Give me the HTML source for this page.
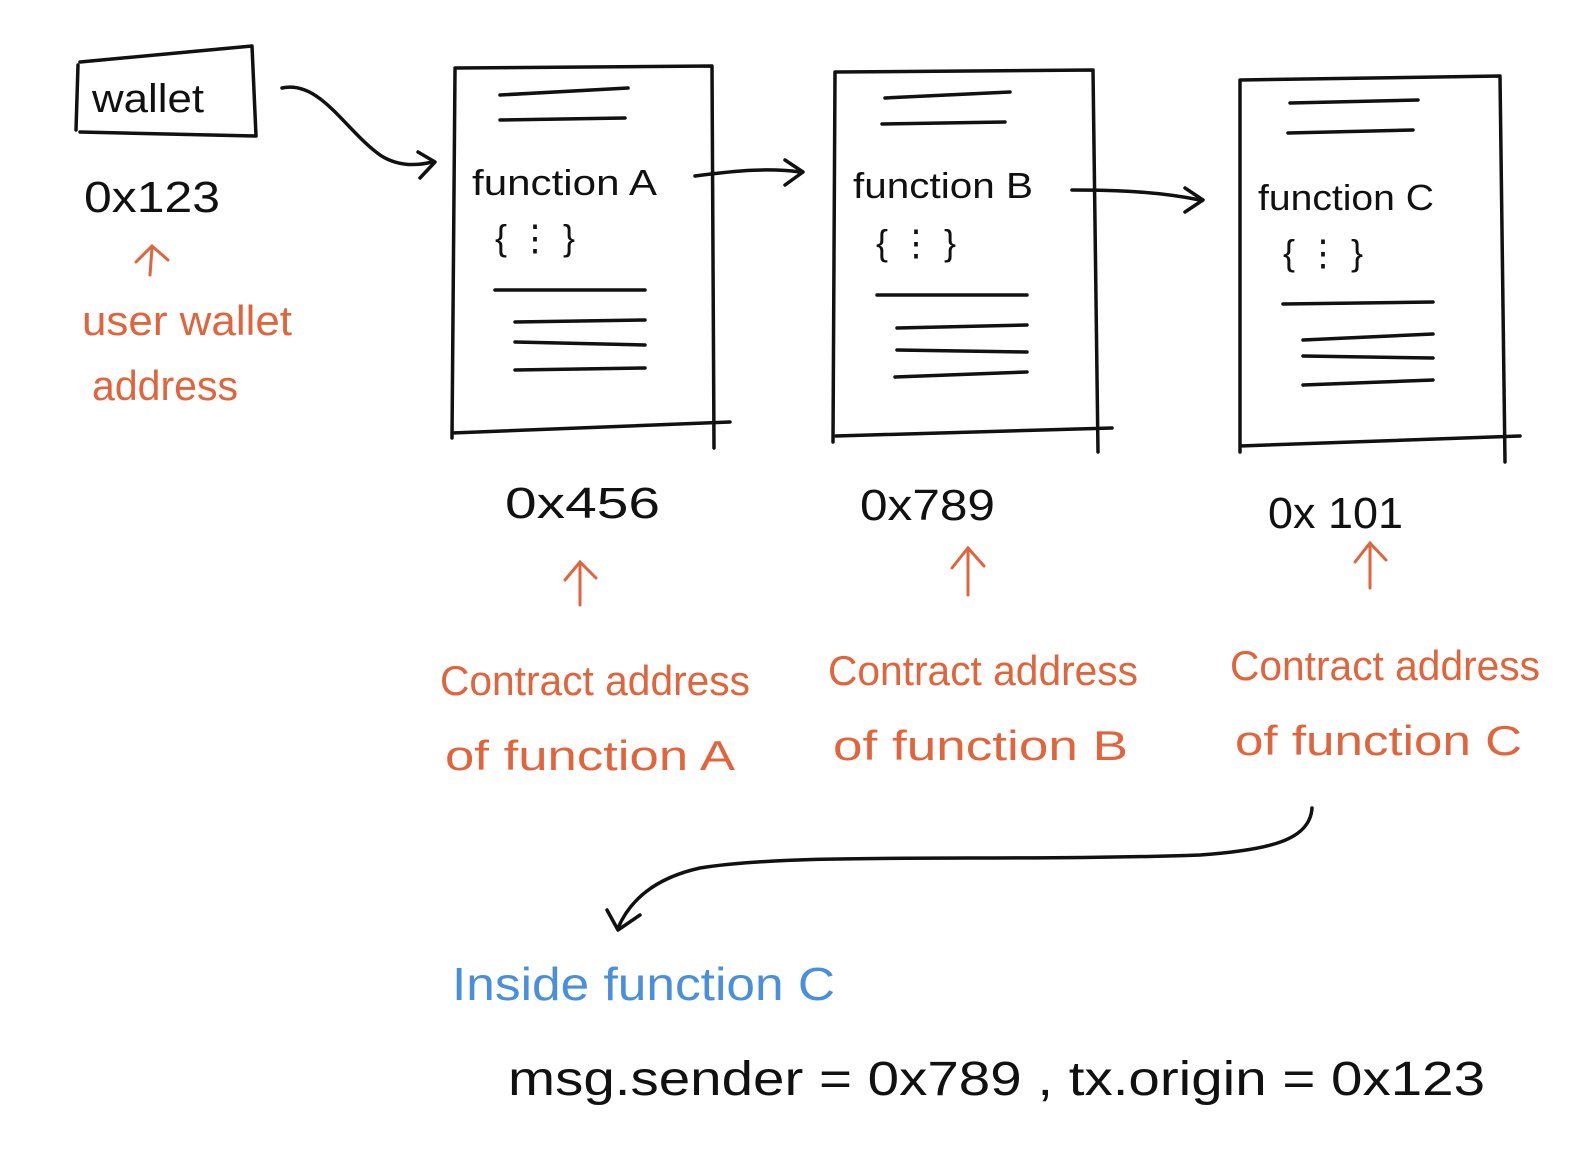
<!DOCTYPE html>
<html><head><meta charset="utf-8"><style>
html,body{margin:0;padding:0;background:#fff;}
svg{display:block;}
text{font-family:"Liberation Sans",sans-serif;}
</style></head><body>
<svg width="1589" height="1160" viewBox="0 0 1589 1160" xmlns="http://www.w3.org/2000/svg">
<rect width="1589" height="1160" fill="#fff"/>
<g fill="none" stroke="#111" stroke-width="3.5" stroke-linecap="round" stroke-linejoin="round">
<path d="M78 65 L76 130 M80 62 L252 46 L256 136 L80 132"/>
<path d="M455 70 L452 438 M455 68 L712 66 L714 448 M452 433 L730 422"/>
<path d="M500 95 L628 88 M500 120 L625 118 M495 290 L645 290 M515 322 L645 320 M515 342 L645 345 M515 370 L645 368"/>
<path d="M835 72 L833 442 M835 72 L1093 70 L1098 452 M836 436 L1112 428"/>
<path d="M885 98 L1010 92 M882 124 L1005 122 M877 295 L1027 295 M897 328 L1027 325 M897 350 L1027 352 M895 377 L1027 372"/>
<path d="M1240 80 L1240 452 M1240 80 L1500 76 L1505 462 M1240 446 L1520 436"/>
<path d="M1290 103 L1418 100 M1288 133 L1413 130 M1283 304 L1433 302 M1303 340 L1433 334 M1303 356 L1433 358 M1303 385 L1433 380"/>
<path d="M282 88 C320 80 345 130 380 155 C400 168 420 165 432 162"/>
<path d="M418 152 L435 162 L420 178"/>
<path d="M695 176 C740 170 770 168 800 172"/>
<path d="M785 160 L803 172 L785 185"/>
<path d="M1072 190 C1120 190 1160 192 1200 200"/>
<path d="M1185 188 L1203 200 L1185 212"/>
<path d="M1312 808 C1310 840 1270 850 1200 855 C1000 862 800 852 700 868 C655 878 630 900 618 928"/>
<path d="M607 910 L618 930 L640 915"/>
</g>
<g fill="none" stroke="#e0643c" stroke-width="3" stroke-linecap="round">
<path d="M152 248 L150 275 M136 262 L152 246 L168 260"/>
<path d="M580 565 L580 605 M565 580 L580 562 L596 578"/>
<path d="M968 550 L968 595 M952 568 L968 548 L984 566"/>
<path d="M1370 545 L1370 588 M1355 562 L1370 543 L1386 560"/>
</g>
<g fill="#111" font-size="44">
<text x="92" y="112" font-size="40" textLength="112" lengthAdjust="spacingAndGlyphs">wallet</text>
<text x="84" y="212" textLength="136" lengthAdjust="spacingAndGlyphs">0x123</text>
<text x="472" y="195" font-size="36" textLength="185" lengthAdjust="spacingAndGlyphs">function A</text>
<text x="495" y="250" font-size="36">{  ⋮        }</text>
<text x="853" y="198" font-size="36" textLength="180" lengthAdjust="spacingAndGlyphs">function B</text>
<text x="876" y="255" font-size="36">{  ⋮        }</text>
<text x="1258" y="210" font-size="36" textLength="176" lengthAdjust="spacingAndGlyphs">function C</text>
<text x="1283" y="265" font-size="36">{  ⋮        }</text>
<text x="505" y="518" textLength="155" lengthAdjust="spacingAndGlyphs">0x456</text>
<text x="860" y="520" textLength="135" lengthAdjust="spacingAndGlyphs">0x789</text>
<text x="1268" y="528" textLength="135" lengthAdjust="spacingAndGlyphs">0x 101</text>
<text x="508" y="1095" font-size="48" textLength="977" lengthAdjust="spacingAndGlyphs">msg.sender = 0x789 , tx.origin = 0x123</text>
</g>
<g fill="#e0643c" font-size="42">
<text x="82" y="335" textLength="210" lengthAdjust="spacingAndGlyphs">user wallet</text>
<text x="92" y="400" textLength="146" lengthAdjust="spacingAndGlyphs">address</text>
<text x="440" y="695" textLength="310" lengthAdjust="spacingAndGlyphs">Contract address</text>
<text x="445" y="770" textLength="290" lengthAdjust="spacingAndGlyphs">of  function A</text>
<text x="828" y="685" textLength="310" lengthAdjust="spacingAndGlyphs">Contract address</text>
<text x="833" y="760" textLength="295" lengthAdjust="spacingAndGlyphs">of  function B</text>
<text x="1230" y="680" textLength="310" lengthAdjust="spacingAndGlyphs">Contract address</text>
<text x="1235" y="755" textLength="287" lengthAdjust="spacingAndGlyphs">of  function C</text>
</g>
<text x="452" y="1000" fill="#4a8fdb" font-size="46" textLength="383" lengthAdjust="spacingAndGlyphs">Inside  function C</text>
</svg>
</body></html>
